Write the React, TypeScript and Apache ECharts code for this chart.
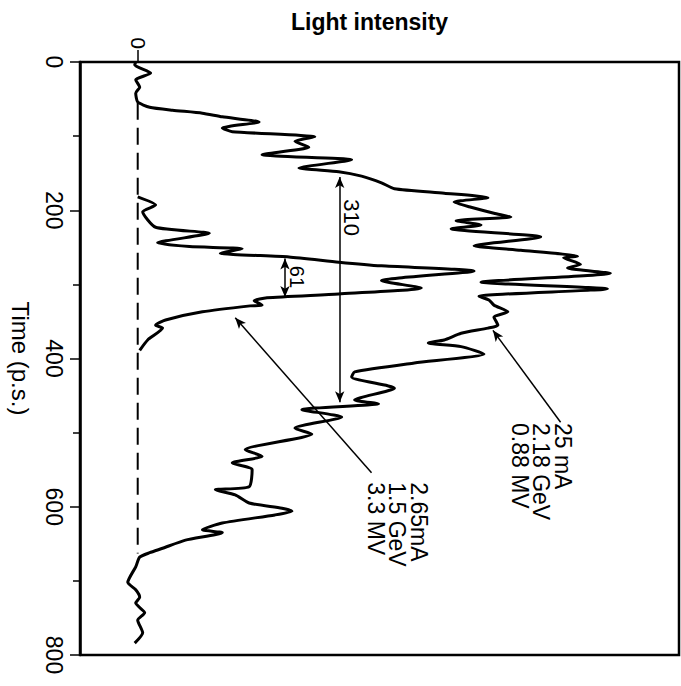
import { useEffect, useRef } from "react";
import * as echarts from "echarts";

// Time axis (picoseconds), drawn top to bottom
const timeMin = 0;
const timeMax = 800;
const timeStep = 200;
// Intensity axis (arbitrary units, baseline = 0)
const intensityMin = -58;
const intensityMax = 544;

// [intensity, time (p.s.)] — 25 mA, 2.18 GeV, 0.88 MV bunch (broad profile)
const broadCurve: [number, number][] = [
  [-2, 0], [-3, 4], [13, 15], [-2, 24], [2, 34], [-2, 42], [0, 54], [12, 61],
  [35, 65], [65, 69], [85, 74], [122, 81], [85, 89], [95, 94], [178, 101],
  [158, 107], [172, 115], [125, 125], [215, 132], [162, 143], [202, 148],
  [225, 154], [245, 163], [258, 171], [308, 177], [352, 183], [318, 189],
  [335, 196], [358, 204], [375, 209], [320, 214], [345, 220], [315, 225],
  [405, 236], [338, 248], [385, 254], [442, 262], [428, 264], [445, 273],
  [432, 278], [475, 285], [345, 297], [472, 306], [343, 316], [353, 321],
  [358, 328], [372, 337], [358, 344], [362, 355], [352, 359], [325, 366],
  [308, 375], [292, 379], [325, 384], [348, 394], [278, 406], [218, 418],
  [215, 425], [258, 440], [218, 456], [242, 461], [165, 469], [205, 479],
  [158, 494], [175, 502], [108, 523], [125, 532], [95, 541], [115, 550],
  [112, 573], [78, 577], [98, 584], [112, 595], [145, 602], [155, 606],
  [138, 611], [85, 622], [65, 631], [85, 635], [48, 645], [25, 656],
  [12, 662], [2, 668], [-2, 681], [-10, 702], [-2, 712], [2, 722],
  [-2, 730], [7, 743], [0, 753], [5, 770], [-3, 784],
];

// [intensity, time (p.s.)] — 2.65 mA, 1.5 GeV, 3.3 MV bunch (narrow profile)
const narrowCurve: [number, number][] = [
  [0, 182], [18, 193], [5, 202], [18, 223], [72, 231], [20, 244], [52, 249],
  [105, 252], [83, 258], [152, 263], [202, 270], [245, 275], [338, 282],
  [245, 295], [285, 305], [202, 313], [130, 318], [117, 322], [125, 328],
  [113, 329], [65, 337], [28, 348], [18, 355], [25, 359], [10, 375], [2, 389],
];

// Dashed zero-intensity baseline
const baseline: [number, number][] = [[0, 55], [0, 663]];

// Width markers: [intensity, from time, to time]
const broadWidth = { text: "310", at: 203, from: 155, to: 459, labelPos: [215, 210] };
const narrowWidth = { text: "61", at: 148, from: 265, to: 317, labelPos: [160, 290] };

// Curve captions and their pointers (tip on curve, tail at caption)
const broadCaption = ["25 mA", "2.18 GeV", "0.88 MV"];
const broadPointer = { tip: [357, 362], tail: [425, 486], textAt: [438, 487] };
const narrowCaption = ["2.65mA", "1.5 GeV", "3.3 MV"];
const narrowPointer = { tip: [98, 345], tail: [235, 554], textAt: [293, 567] };

const FONT = "'Liberation Sans', Arial, Helvetica, sans-serif";

export default function App() {
  const ref = useRef<HTMLDivElement>(null);

  useEffect(() => {
    const chart = echarts.init(ref.current!, null, { renderer: "svg" });
    const black = "#000";
    chart.setOption({
      animation: false,
      backgroundColor: "#fff",
      title: {
        text: "Light intensity",
        left: 286,
        top: 5,
        textStyle: { fontFamily: FONT, fontSize: 23, fontWeight: "bold", color: black },
      },
      grid: {
        left: 77,
        right: 2,
        top: 62,
        bottom: 31,
        show: true,
        borderColor: black,
        borderWidth: 2.5,
        backgroundColor: "transparent",
      },
      xAxis: [
        {
          type: "value",
          min: intensityMin,
          max: intensityMax,
          axisLine: { show: false, onZero: false },
          axisTick: { show: false },
          axisLabel: { show: false },
          splitLine: { show: false },
        },
        {
          type: "value",
          position: "top",
          min: intensityMin,
          max: intensityMax,
          axisLine: { show: false, onZero: false },
          splitLine: { show: false },
          axisTick: { show: true, customValues: [0], length: 12, lineStyle: { color: black, width: 1.5 } },
          axisLabel: {
            show: true,
            customValues: [0],
            rotate: -90,
            margin: 13,
            fontSize: 21,
            color: black,
            fontFamily: FONT,
          },
        },
      ],
      yAxis: {
        type: "value",
        inverse: true,
        min: timeMin,
        max: timeMax,
        interval: timeStep,
        name: "Time (p.s.)",
        nameLocation: "middle",
        nameRotate: -90,
        nameGap: 48,
        nameTextStyle: { fontFamily: FONT, fontSize: 24, color: black },
        axisLine: { show: true, onZero: false, lineStyle: { color: black, width: 2.5 } },
        axisTick: { show: true, length: 10, lineStyle: { color: black, width: 1.5 } },
        minorTick: { show: true, splitNumber: 2, length: 7, lineStyle: { color: black, width: 1.5 } },
        axisLabel: { rotate: -90, margin: 15, fontSize: 23, color: black, fontFamily: FONT },
        splitLine: { show: false },
      },
      series: [
        {
          type: "line",
          data: baseline,
          showSymbol: false,
          silent: true,
          lineStyle: { color: black, width: 2, type: [17, 8], dashOffset: 0 },
          z: 2,
        },
        {
          type: "line",
          data: broadCurve,
          showSymbol: false,
          silent: true,
          smooth: 0.2,
          lineStyle: { color: black, width: 3, join: "round" },
          z: 3,
          markLine: {
            silent: true,
            symbol: ["arrow", "arrow"],
            symbolSize: [7, 11],
            lineStyle: { color: black, width: 1.5, type: "solid" },
            label: { show: false },
            data: [
              [{ coord: [broadWidth.at, broadWidth.from] }, { coord: [broadWidth.at, broadWidth.to] }],
              [{ coord: [narrowWidth.at, narrowWidth.from] }, { coord: [narrowWidth.at, narrowWidth.to] }],
              [
                { coord: broadPointer.tip, symbol: "arrow" },
                { coord: broadPointer.tail, symbol: "none" },
              ],
              [
                { coord: narrowPointer.tip, symbol: "arrow" },
                { coord: narrowPointer.tail, symbol: "none" },
              ],
            ],
          },
        },
        {
          type: "line",
          data: narrowCurve,
          showSymbol: false,
          silent: true,
          smooth: 0.2,
          lineStyle: { color: black, width: 3, join: "round" },
          z: 3,
        },
      ],
    });

    const px = (p: number[]) => chart.convertToPixel({ xAxisIndex: 0, yAxisIndex: 0 }, p) as number[];
    const b310 = px(broadWidth.labelPos);
    const b61 = px(narrowWidth.labelPos);
    const bCap = px(broadPointer.textAt);
    const nCap = px(narrowPointer.textAt);
    const rot = -Math.PI / 2;
    chart.setOption({
      graphic: [
        {
          type: "text", x: b310[0], y: b310[1], rotation: rot, silent: true,
          style: { text: broadWidth.text, font: `22px ${FONT}`, fill: black, align: "center", verticalAlign: "middle" },
        },
        {
          type: "text", x: b61[0], y: b61[1], rotation: rot, silent: true,
          style: { text: narrowWidth.text, font: `20px ${FONT}`, fill: black, align: "center", verticalAlign: "middle" },
        },
        {
          type: "text", x: bCap[0], y: bCap[1], rotation: rot, silent: true,
          style: { text: broadCaption.join("\n"), font: `23px ${FONT}`, lineHeight: 21.5, fill: black, align: "left", verticalAlign: "top" },
        },
        {
          type: "text", x: nCap[0], y: nCap[1], rotation: rot, silent: true,
          style: { text: narrowCaption.join("\n"), font: `23px ${FONT}`, lineHeight: 21.5, fill: black, align: "left", verticalAlign: "top" },
        },
      ],
    });

    return () => chart.dispose();
  }, []);

  return (
    <div
      ref={ref}
      style={{ position: "fixed", left: 0, top: 0, width: 681, height: 686, background: "#fff" }}
    />
  );
}
